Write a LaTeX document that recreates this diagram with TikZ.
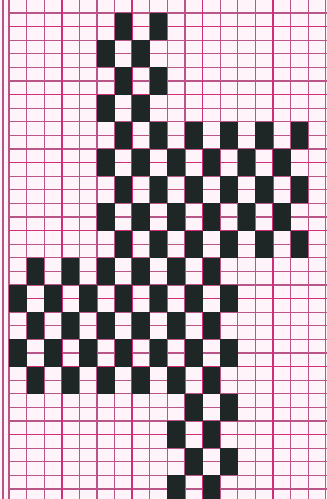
\documentclass[tikz,border=0pt]{standalone}
\usepackage{tikz}
\usetikzlibrary{positioning}
\definecolor{cPaper}{RGB}{255,244,249}
\definecolor{cLine}{RGB}{185,85,135}
\definecolor{cHeavy}{RGB}{210,45,120}
\definecolor{cInk}{RGB}{30,38,38}

\begin{document}
\begin{tikzpicture}[x=1pt,y=-1pt,
   thinline/.style={draw=cLine,line width=1.2pt},
   heavyline/.style={draw=cHeavy,line width=1.6pt},
   cell/.style={fill=cInk}]
 \useasboundingbox (0,0) rectangle (327,499);
 \clip (0,0) rectangle (327,499);
 \fill[cPaper] (0,0) rectangle (327,499);
 % fine grid: columns 17.6 wide from x=9, rows 13.6 high
 \foreach \c in {0,...,18} {
   \pgfmathsetmacro{\x}{9+17.6*\c}
   \draw[thinline] (\x,0) -- (\x,499);
 }
 \foreach \r in {0,...,37} {
   \pgfmathsetmacro{\y}{-0.6+13.6*\r}
   \draw[thinline] (9,\y) -- (327,\y);
 }
 % heavier guide lines
 \foreach \c in {3,7,11,15}
   \draw[heavyline] (9+17.6*\c,0) -- (9+17.6*\c,499);
 \foreach \r in {2,7,...,37}
   \draw[heavyline] (9,-0.6+13.6*\r) -- (327,-0.6+13.6*\r);
 % margin line
 \draw[thinline] (3,0) -- (3,499);
 % pattern: one unit = one column x two rows, checkered inside each band
 \foreach \R/\a/\b in {0/5/8,1/5/8,2/5/8,3/5/8,4/5/16,5/5/16,6/5/16,7/5/16,8/5/16,
                       9/0/12,10/0/12,11/0/12,12/0/12,13/0/12,14/9/12,15/9/12,16/9/12,17/9/12}
   \foreach \C in {\a,...,\b} {
     \pgfmathparse{int(mod(\C+\R,2))}
     \ifnum\pgfmathresult=0
       \fill[cell] (9+17.6*\C,13+27.2*\R) rectangle ++(17.6,27.2);
     \fi
   }
\end{tikzpicture}
\end{document}
